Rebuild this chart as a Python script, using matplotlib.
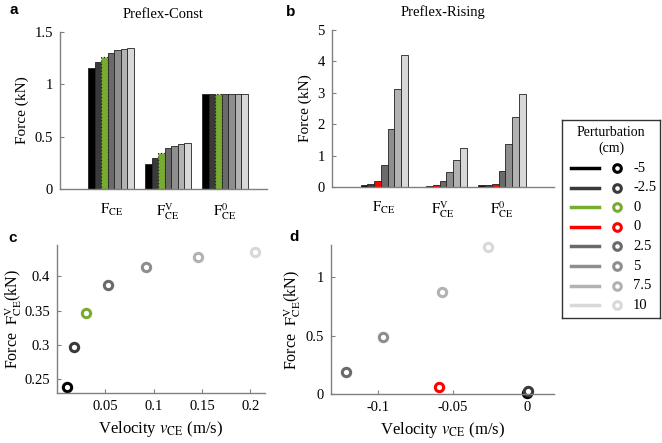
import numpy as np
import matplotlib
matplotlib.use('Agg')
import matplotlib.pyplot as plt

plt.rcParams['font.family'] = ['Liberation Serif', 'DejaVu Serif']
plt.rcParams['mathtext.fontset'] = 'stix'
plt.rcParams['font.size'] = 9.5

# DATA
groups = [r'$\mathrm{F}_{\mathrm{CE}}$', r'$\mathrm{F}^{\mathrm{V}}_{\mathrm{CE}}$', r'$\mathrm{F}^{0}_{\mathrm{CE}}$']
legend_labels = ['-5', '-2.5', '0', '0', '2.5', '5', '7.5', '10']

# preflex-const (green = 0 cm)
const_fce = [1.157, 1.214, 1.262, 1.303, 1.331, 1.341, 1.350]
const_fv = [0.238, 0.297, 0.347, 0.387, 0.414, 0.429, 0.436]
const_f0 = [0.91, 0.91, 0.91, 0.91, 0.91, 0.91, 0.91]
const_v = [0.0105, 0.018, 0.030, 0.0527, 0.092, 0.1455, 0.2045]

# preflex-rising (red = 0 cm)
rising_fce = [0.07, 0.09, 0.18, 0.71, 1.86, 3.11, 4.21]
rising_fv = [0.01, 0.03, 0.065, 0.19, 0.49, 0.867, 1.25]
rising_f0 = [0.06, 0.06, 0.11, 0.52, 1.36, 2.23, 2.95]
rising_v = [0.0, 0.001, -0.059, -0.122, -0.0966, -0.057, -0.0264]

# COLORS
black = '#000000'
dark = '#3a3a3a'
green = '#77AC30'
red = '#FF0000'
grays = ['#6a6a6a', '#8e8e8e', '#b2b2b2', '#d8d8d8']
const_colors = [black, dark, green] + grays
rising_colors = [black, dark, red] + grays
legend_colors = [black, dark, green, red] + grays
axcol = '#808080'


def style_axes(ax):
    for s in ['top', 'right']:
        ax.spines[s].set_visible(False)
    for s in ['left', 'bottom']:
        ax.spines[s].set_color(axcol)
        ax.spines[s].set_linewidth(1.0)
    ax.tick_params(direction='in', length=3, color=axcol, labelsize=10.5, pad=5)


def bars(ax, data, colors, special):
    w = 0.8 / 7
    centers = np.arange(1, 4)
    for i in range(7):
        vals = [data[0][i], data[1][i], data[2][i]]
        b = ax.bar(centers + (i - 3) * w, vals, w, color=colors[i],
                   edgecolor='#222222', linewidth=0.6)
        if i == special:
            for p in b:
                p.set_linestyle(':')
                p.set_linewidth(0.9)
    ax.set_xticks(centers)
    ax.set_xticklabels(groups, fontsize=14)


fig = plt.figure(figsize=(6.62, 4.43), dpi=100)

# a
ax1 = fig.add_axes([0.0906, 0.5734, 0.3127, 0.3544])
bars(ax1, [const_fce, const_fv, const_f0], const_colors, 2)
ax1.set_xlim(0.1, 3.74)
ax1.set_ylim(0, 1.5)
ax1.set_yticks([0, 0.5, 1, 1.5])
ax1.set_yticklabels(['0', '0.5', '1', '1.5'])
ax1.set_ylabel('Force (kN)', fontsize=11)
ax1.set_title('Preflex-Const', fontsize=10.5, pad=10)
style_axes(ax1)
ax1.tick_params(axis='x', length=0, pad=9)

# b
ax2 = fig.add_axes([0.501, 0.5779, 0.3358, 0.3544])
bars(ax2, [rising_fce, rising_fv, rising_f0], rising_colors, -1)
ax2.set_xlim(0.11, 3.88)
ax2.set_ylim(0, 5)
ax2.set_yticks([0, 1, 2, 3, 4, 5])
ax2.set_ylabel('Force (kN)', fontsize=11)
ax2.set_title('Preflex-Rising', fontsize=10.5, pad=10)
style_axes(ax2)
ax2.tick_params(axis='x', length=0, pad=9)

# c
ax3 = fig.add_axes([0.0861, 0.1122, 0.3142, 0.3348])
for i in range(7):
    ax3.plot(const_v[i], const_fv[i], 'o', ms=6, mew=2.2, mfc='white',
             mec=const_colors[i], clip_on=False)
ax3.set_xlim(0, 0.215)
ax3.set_ylim(0.2295, 0.446)
ax3.set_xticks([0.05, 0.1, 0.15, 0.2])
ax3.set_xticklabels(['0.05', '0.1', '0.15', '0.2'])
ax3.set_yticks([0.25, 0.3, 0.35, 0.4])
ax3.set_yticklabels(['0.25', '0.3', '0.35', '0.4'])
ax3.set_xlabel(r'Velocity $v_{\mathrm{CE}}$ (m/s)', fontsize=12)
ax3.set_ylabel(r'Force  $\mathrm{F}^{\mathrm{V}}_{\mathrm{CE}}$(kN)', fontsize=11.5, labelpad=0)
style_axes(ax3)

# d
ax4 = fig.add_axes([0.5, 0.1099, 0.3369, 0.337])
for i in range(7):
    ax4.plot(rising_v[i], rising_fv[i], 'o', ms=6, mew=2.2, mfc='white',
             mec=rising_colors[i], clip_on=False)
ax4.set_xlim(-0.132, 0.0184)
ax4.set_ylim(0, 1.27)
ax4.set_xticks([-0.1, -0.05, 0])
ax4.set_xticklabels(['-0.1', '-0.05', '0'])
ax4.set_yticks([0, 0.5, 1])
ax4.set_yticklabels(['0', '0.5', '1'])
ax4.set_xlabel(r'Velocity $v_{\mathrm{CE}}$ (m/s)', fontsize=12)
ax4.set_ylabel(r'Force  $\mathrm{F}^{\mathrm{V}}_{\mathrm{CE}}$(kN)', fontsize=11.5, labelpad=2)
style_axes(ax4)

# panel letters
for x, y, s in [(10, 10, 'a'), (286, 12, 'b'), (8, 238, 'c'), (289, 237, 'd')]:
    fig.text(x / 662, 1 - y / 443, s, fontsize=11, fontweight='bold',
             family='Liberation Sans', va='center', ha='left')

# legend box
lg = fig.add_axes([562 / 662, 1 - 318 / 443, 98 / 662, 198 / 443])
lg.set_xlim(0, 98)
lg.set_ylim(198, 0)
lg.set_xticks([])
lg.set_yticks([])
for s in lg.spines.values():
    s.set_color('#333333')
    s.set_linewidth(1.0)
lg.text(49, 12, 'Perturbation', ha='center', va='center', fontsize=10)
lg.text(49, 28, '(cm)', ha='center', va='center', fontsize=10)
for i in range(8):
    yy = 48 + i * 19.6
    lg.plot([8.5, 37], [yy, yy], color=legend_colors[i], lw=2.5)
    lg.plot(54.5, yy, 'o', ms=5.5, mew=2.2, mfc='white', mec=legend_colors[i])
    lg.text(71, yy, legend_labels[i], ha='left', va='center', fontsize=10.5)

plt.savefig('out.png', dpi=100)
